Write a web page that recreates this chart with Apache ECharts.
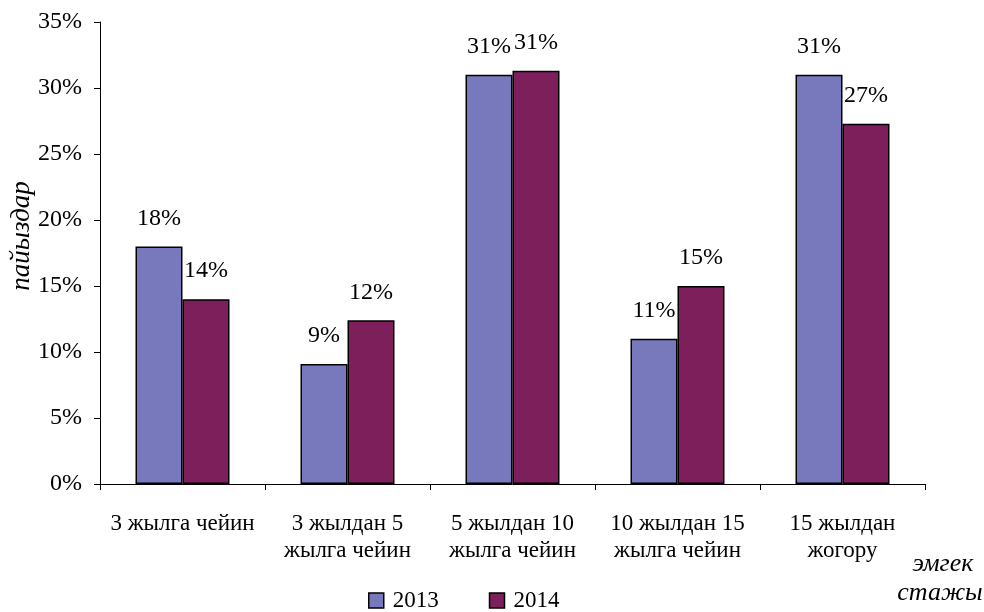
<!DOCTYPE html>
<html>
<head>
<meta charset="utf-8">
<script src="https://cdn.jsdelivr.net/npm/echarts@6/dist/echarts.min.js"></script>
<style>
  html, body { margin: 0; padding: 0; background: #fff; }
  #chart { width: 984px; height: 612px; }
</style>
</head>
<body>
<div id="chart"></div>
<script>
const categories = [
  '3 жылга чейин',
  '3 жылдан 5\nжылга чейин',
  '5 жылдан 10\nжылга чейин',
  '10 жылдан 15\nжылга чейин',
  '15 жылдан\nжогору'
];
const values2013 = [18.0, 9.1, 31.0, 11.0, 31.0];
const values2014 = [14.0, 12.4, 31.3, 15.0, 27.3];
const yTicks = [0, 5, 10, 15, 20, 25, 30, 35];

const serif = '"Liberation Serif", "Times New Roman", serif';
const chart = echarts.init(document.getElementById('chart'));

const barLabel = {
  show: true,
  position: 'top',
  distance: 16,
  color: '#000',
  fontFamily: serif,
  fontSize: 24,
  formatter: p => Math.round(p.value) + '%'
};

chart.setOption({
  animation: false,
  textStyle: { fontFamily: serif },
  grid: { left: 100, right: 59, top: 22, bottom: 128 },
  legend: {
    left: 363,
    top: 584,
    itemWidth: 15,
    itemHeight: 15,
    itemGap: 50,
    icon: 'rect',
    textStyle: { fontFamily: serif, fontSize: 23, color: '#000', padding: [0, 0, 0, 4] },
    data: [
      { name: '2013', itemStyle: { borderColor: '#000', borderWidth: 1.5 } },
      { name: '2014', itemStyle: { borderColor: '#000', borderWidth: 1.5 } }
    ]
  },
  xAxis: {
    type: 'category',
    data: categories,
    axisLine: { lineStyle: { color: '#000', width: 1 } },
    axisTick: { show: true, length: 6, lineStyle: { color: '#000' } },
    axisLabel: {
      color: '#000',
      fontFamily: serif,
      fontSize: 23,
      lineHeight: 27,
      margin: 26,
      interval: 0
    }
  },
  yAxis: {
    type: 'value',
    min: 0,
    max: 35,
    interval: 5,
    axisLine: { show: true, lineStyle: { color: '#000', width: 1 } },
    axisTick: { show: true, length: 6, lineStyle: { color: '#000' } },
    splitLine: { show: false },
    axisLabel: {
      color: '#000',
      fontFamily: serif,
      fontSize: 24,
      margin: 18,
      formatter: v => yTicks.includes(v) ? v + '%' : ''
    }
  },
  graphic: [
    {
      type: 'text',
      x: 22, y: 236,
      rotation: Math.PI / 2,
      style: {
        text: 'пайыздар',
        fontFamily: serif, fontSize: 27, fontStyle: 'italic',
        fill: '#000', align: 'center', verticalAlign: 'middle'
      }
    },
    {
      type: 'text',
      x: 943, y: 564,
      style: {
        text: 'эмгек',
        fontFamily: serif, fontSize: 26, fontStyle: 'italic',
        fill: '#000', align: 'center', verticalAlign: 'middle'
      }
    },
    {
      type: 'text',
      x: 940, y: 593,
      style: {
        text: 'стажы',
        fontFamily: serif, fontSize: 26, fontStyle: 'italic',
        fill: '#000', align: 'center', verticalAlign: 'middle'
      }
    }
  ],
  series: [
    {
      name: '2013',
      type: 'bar',
      data: values2013,
      barWidth: 47,
      barGap: '0%',
      itemStyle: { color: '#7879BD', borderColor: '#000', borderWidth: 1.5 },
      label: barLabel
    },
    {
      name: '2014',
      type: 'bar',
      data: values2014,
      barWidth: 47,
      itemStyle: { color: '#7D1F5B', borderColor: '#000', borderWidth: 1.5 },
      label: barLabel
    }
  ]
});
</script>
</body>
</html>
